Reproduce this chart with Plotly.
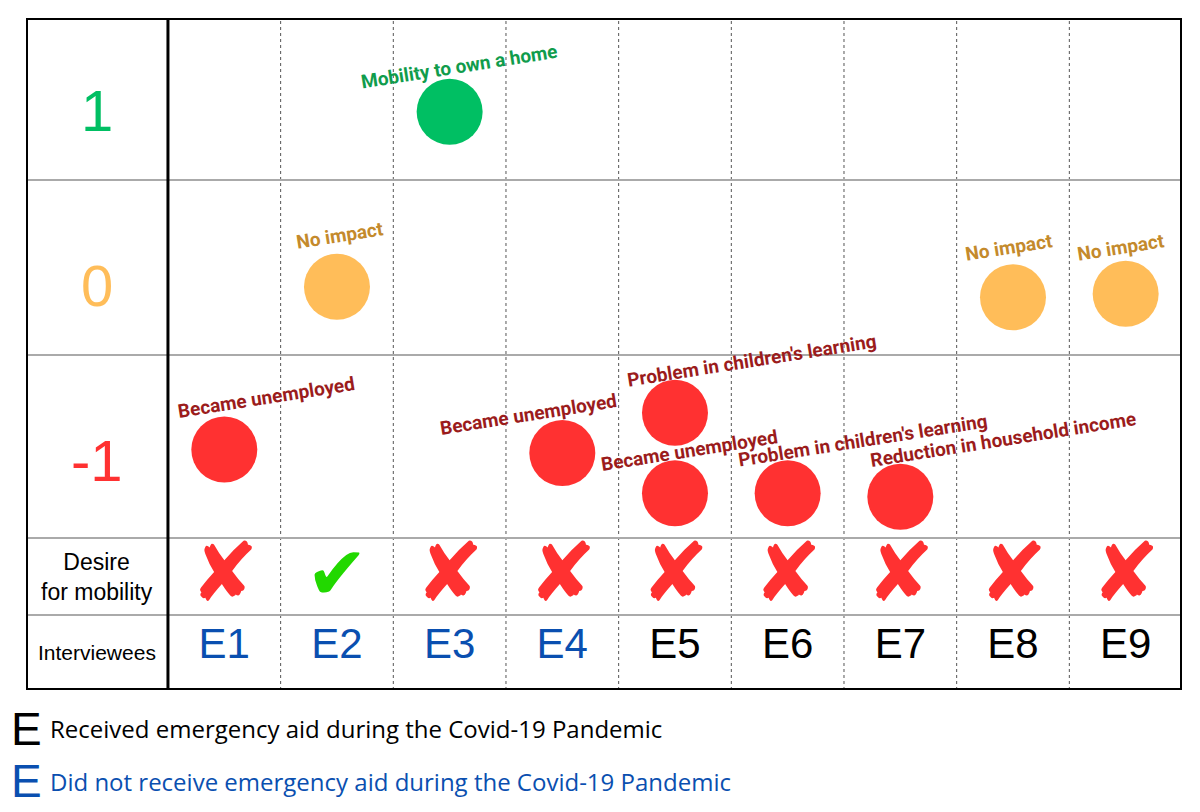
import plotly.graph_objects as go

# interviewees and their row data
interviewees = ["E1", "E2", "E3", "E4", "E5", "E6", "E7", "E8", "E9"]
received_aid = [False, False, False, False, True, True, True, True, True]
desire_for_mobility = [False, True, False, False, False, False, False, False, False]

# one entry per circle (E5 has two)
impact_person = ["E1", "E2", "E3", "E4", "E5", "E5", "E6", "E7", "E8", "E9"]
impact_level = [-1, 0, 1, -1, -1, -1, -1, -1, 0, 0]
impact_y = [-1.04, -0.11, 0.89, -1.06, -0.83, -1.29, -1.29, -1.31, -0.17, -0.15]
impact_text = ["Became unemployed", "No impact", "Mobility to own a home",
               "Became unemployed", "Problem in children's learning",
               "Became unemployed", "Problem in children's learning",
               "Reduction in household income", "No impact", "No impact"]

level_labels = ["1", "0", "-1"]
legend_text = ["Received emergency aid during the Covid-19 Pandemic",
               "Did not receive emergency aid during the Covid-19 Pandemic"]

dot_color = {1: "#00bf63", 0: "#ffbd59", -1: "#ff3131"}
label_color = {1: "#109c4c", 0: "#c48a2c", -1: "#9b1c1c"}
blue = "#0a4fb0"

# label nudges (px) relative to each circle
nudge = [(42, 52), (3, 51), (10, 45), (-34, 39), (77, 52),
         (15, 43), (75, 53), (103, 57), (-4, 50), (-5, 46)]

# table rows in y units
top, b10, b0m1, b_m1, b_des, bottom = 1.426, 0.5, -0.5, -1.546, -1.986, -2.414
left, split, right = -0.76, 0.5, 9.5
lab_x = (left + split) / 2

xpos = {name: i + 1 for i, name in enumerate(interviewees)}

fig = go.Figure()

fig.add_trace(go.Scatter(
    x=[xpos[p] for p in impact_person], y=impact_y, mode="markers",
    marker=dict(size=66, color=[dot_color[l] for l in impact_level], line=dict(width=0)),
    hoverinfo="text", hovertext=impact_text, showlegend=False))

fig.add_trace(go.Scatter(
    x=[xpos[p] for p in interviewees], y=[(b_m1 + b_des) / 2 - 0.02] * 9, mode="text",
    text=["✔" if d else "✘" for d in desire_for_mobility],
    textfont=dict(size=[74 if d else 82 for d in desire_for_mobility],
                  color=["#22d800" if d else "#ff3131" for d in desire_for_mobility],
                  family="DejaVu Sans"),
    showlegend=False, hoverinfo="skip"))

fig.add_trace(go.Scatter(
    x=[xpos[p] for p in interviewees], y=[(b_des + bottom) / 2 + 0.03] * 9, mode="text",
    text=interviewees,
    textfont=dict(size=42, color=["black" if a else blue for a in received_aid],
                  family="Liberation Sans"),
    showlegend=False, hoverinfo="skip"))

# rotated impact labels
for p, y, lvl, t, (dx, dy) in zip(impact_person, impact_y, impact_level, impact_text, nudge):
    fig.add_annotation(x=xpos[p], y=y, text=t, showarrow=False, textangle=-9,
                       xshift=dx, yshift=dy,
                       font=dict(family="Roboto", size=19, color=label_color[lvl], weight="bold"))

# left label column
for s, lvl in zip(level_labels, [1, 0, -1]):
    fig.add_annotation(x=lab_x, y=lvl - 0.1, text=s, showarrow=False,
                       font=dict(family="Liberation Sans", size=58, color=dot_color[lvl]))
fig.add_annotation(x=lab_x, y=(b_m1 + b_des) / 2, text="Desire<br>for mobility", showarrow=False,
                   font=dict(family="Liberation Sans", size=23, color="black"))
fig.add_annotation(x=lab_x, y=(b_des + bottom) / 2, text="Interviewees", showarrow=False,
                   font=dict(family="Liberation Sans", size=21, color="black"))

# grid lines
for k in range(1, 9):
    fig.add_shape(type="line", x0=k + 0.5, x1=k + 0.5, y0=bottom, y1=top + 0.01,
                  line=dict(color="#555555", width=1, dash="dot"))
for yy in [b10, b0m1, b_m1, b_des]:
    fig.add_shape(type="line", x0=left, x1=right, y0=yy, y1=yy,
                  line=dict(color="#aaaaaa", width=2))
fig.add_shape(type="line", x0=split, x1=split, y0=bottom, y1=top,
              line=dict(color="black", width=3))
fig.add_shape(type="rect", x0=left, x1=right, y0=bottom, y1=top,
              line=dict(color="black", width=4))

# key below the table
for i, (t, c) in enumerate(zip(legend_text, ["black", blue])):
    fig.add_annotation(xref="paper", yref="paper", x=-0.015, y=-0.058 - i * 0.078,
                       xanchor="left", yanchor="middle", showarrow=False,
                       text="E", font=dict(family="Liberation Sans", size=46, color=c))
    fig.add_annotation(xref="paper", yref="paper", x=0.019, y=-0.058 - i * 0.078,
                       xanchor="left", yanchor="middle", showarrow=False,
                       text=t, font=dict(family="Open Sans", size=24, color=c))

fig.update_xaxes(range=[left, right], visible=False)
fig.update_yaxes(range=[bottom, top], visible=False)
# the page body adds ~8px, so margins are offset to land the table where it belongs
fig.update_layout(width=1200, height=812, plot_bgcolor="white", paper_bgcolor="white",
                  margin=dict(l=18, r=26, t=10, b=130, autoexpand=False))

fig.write_html("out.html")
